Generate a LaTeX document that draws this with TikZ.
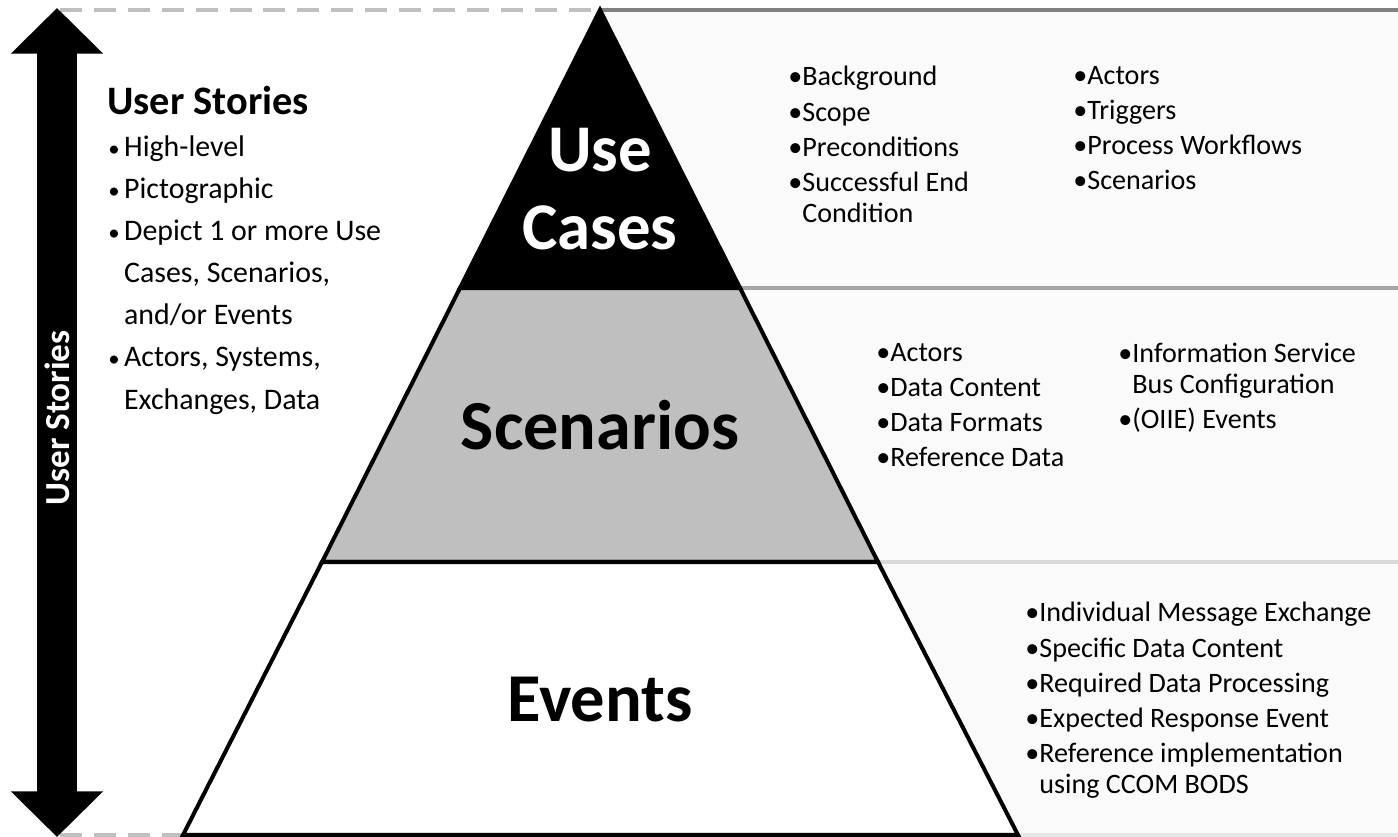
\documentclass[tikz,border=0pt]{standalone}
\usepackage{fontspec}
\setmainfont{Carlito}
\usetikzlibrary{calc,arrows.meta}

\definecolor{midgray}{HTML}{BFBFBF}
\definecolor{panelfill}{HTML}{FAFAFA}
\definecolor{ruleA}{HTML}{808080}
\definecolor{ruleB}{HTML}{A6A6A6}
\definecolor{ruleC}{HTML}{D9D9D9}
\definecolor{ruleD}{HTML}{E6E6E6}

\newcommand{\cont}{\phantom{\textbullet}}
\newcommand{\dotitem}{\makebox[9pt][l]{\fontsize{13}{13}\selectfont\textbullet}}

\tikzset{
  tier/.style={font=\fontsize{38}{44}\selectfont\bfseries, align=center, inner sep=0pt},
  bullets/.style={font=\fontsize{16}{17.5}\selectfont, align=left, anchor=north west, inner sep=0pt},
  guide/.style={draw=midgray, line width=2.3pt, dash pattern=on 12.5pt off 6.8pt},
  shelf/.style={line width=2.3pt},
}

\begin{document}
\begin{tikzpicture}[x=0.02cm, y=-0.02cm]
            \useasboundingbox (0,0) rectangle (1398,837);

            % pyramid corners
            \coordinate (A) at (600,10);
            \coordinate (L1) at (460,288);
            \coordinate (R1) at (740,288);
            \coordinate (L2) at (322,562);
            \coordinate (R2) at (878,562);
            \coordinate (L3) at (183,835);
            \coordinate (R3) at (1018,835);

            % panels on the right
            \fill [panelfill] (A) -- (1398,10) -- (1398,835) -- (R3) -- cycle;
            \draw [ruleA, line width=2.8pt] (A) -- (1398,10);
            \draw [ruleB, shelf] (R1) -- (1398,288);
            \draw [ruleC, shelf] (R2) -- (1398,562);
            \draw [ruleD, shelf] (R3) -- (1398,835);

            % dashed guides
            \draw [guide] (60,10) -- (A);
            \draw [guide] (60,835) -- (L3);

            % tiers
            \filldraw [fill=black, shelf] (A) -- (R1) -- (L1) -- cycle;
            \filldraw [fill=midgray, shelf] (L1) -- (R1) -- (R2) -- (L2) -- cycle;
            \filldraw [fill=white, shelf] (L2) -- (R2) -- (R3) -- (L3) -- cycle;

            \node [tier, text=white] (UC) at (600,189) {Use\\Cases};
            \node [tier, font=\fontsize{40}{44}\selectfont\bfseries] (SC) at (600,425) {Scenarios};
            \node [tier, font=\fontsize{39}{44}\selectfont\bfseries] (EV) at (600,700) {Events};

            % double arrow
            \coordinate (top) at (57,8);
            \coordinate (bot) at (57,837);
            \draw [line width=22.5pt, {Triangle[width=51pt,length=26pt]}-{Triangle[width=51pt,length=26pt]}] (top) -- (bot);
            \node [rotate=90, text=white, font=\fontsize{20}{24}\selectfont\bfseries] (US) at (57,418) {User Stories};

            % left text
            \node [anchor=west, inner sep=0pt, font=\fontsize{23}{26}\selectfont\bfseries] (head) at (107,100) {User Stories};
            \node [bullets, font=\fontsize{17}{24}\selectfont] (story) at (108,135) {%
                \dotitem High-level\\
                \dotitem Pictographic\\
                \dotitem Depict 1 or more Use\\
                \hspace*{9pt}Cases, Scenarios,\\
                \hspace*{9pt}and/or Events\\
                \dotitem Actors, Systems,\\
                \hspace*{9pt}Exchanges, Data};

            % lists in the panels
            \node [bullets] (uc1) at (788,66) {%
                \textbullet Background\\[2.5pt]
                \textbullet Scope\\[2.5pt]
                \textbullet Preconditions\\[2.5pt]
                \textbullet Successful End\\
                \cont Condition};
            \node [bullets] (uc2) at (1073,66) {%
                \textbullet Actors\\[2.5pt]
                \textbullet Triggers\\[2.5pt]
                \textbullet Process Workflows\\[2.5pt]
                \textbullet Scenarios};
            \node [bullets] (sc1) at (876,343) {%
                \textbullet Actors\\[2.5pt]
                \textbullet Data Content\\[2.5pt]
                \textbullet Data Formats\\[2.5pt]
                \textbullet Reference Data};
            \node [bullets] (sc2) at (1118,343) {%
                \textbullet Information Service\\
                \cont Bus Configuration\\[2.5pt]
                \textbullet (OIIE) Events};
            \node [bullets] (ev1) at (1025,602) {%
                \textbullet Individual Message Exchange\\[2.5pt]
                \textbullet Specific Data Content\\[2.5pt]
                \textbullet Required Data Processing\\[2.5pt]
                \textbullet Expected Response Event\\[2.5pt]
                \textbullet Reference implementation\\
                \cont using CCOM BODS};
        \end{tikzpicture}
\end{document}
